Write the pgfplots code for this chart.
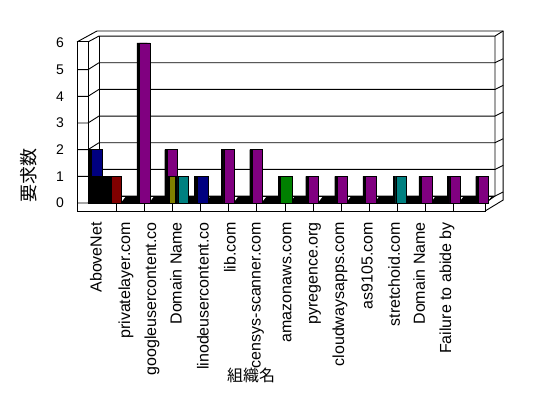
\documentclass[border=0pt]{standalone}
\usepackage{fontspec}
\setmainfont{Liberation Sans}
\newfontfamily\cjk{Noto Sans CJK JP}
\usepackage{pgfplots}
\usepackage{pgfplotstable}
\pgfplotsset{compat=1.18}
\tikzset{frame/.style={line width=0.9pt}}
\definecolor{cnavy}{HTML}{000080}
\definecolor{cmaroon}{HTML}{800000}
\definecolor{cpurple}{HTML}{800080}
\definecolor{colive}{HTML}{808000}
\definecolor{cteal}{HTML}{008080}
\definecolor{cgreen}{HTML}{008000}

\pgfplotstableread{
x y
0.32 2
4.07 1
}\navydata
\pgfplotstableread{
x y
0.46 1
}\blackdata
\pgfplotstableread{
x y
1.01 1
}\maroondata
\pgfplotstableread{
x y
2.01 6
3.00 2
5.01 2
6.02 2
8.01 1
9.04 1
10.04 1
12.03 1
13.04 1
14.05 1
}\purpledata
\pgfplotstableread{
x y
3.04 1
}\olivedata
\pgfplotstableread{
x y
3.38 1
11.12 1
}\tealdata
\pgfplotstableread{
x y
7.04 1
}\greendata

\begin{document}
\begin{tikzpicture}
\path[use as bounding box, fill=white] (0,0) rectangle (548pt,398pt);
\begin{axis}[
  at={(88pt,195pt)}, anchor=south west,
  scale only axis, width=394pt, height=160pt,
  xmin=0, xmax=14, ymin=0, ymax=6,
  clip=false,
  axis line style={draw=none},
  tick style={draw=none},
  major tick length=0pt,
  xtick={0.284,1.350,2.274,3.127,4.087,5.046,6.041,7.072,8.067,8.955,9.915,10.874,11.763,12.758},
  xticklabels={AboveNet,privatelayer.com,googleusercontent.co,Domain Name,linodeusercontent.co,lib.com,censys-scanner.com,amazonaws.com,pyregence.org,cloudwaysapps.com,as9105.com,stretchoid.com,Domain Name,Failure to abide by},
  xticklabel style={rotate=90, anchor=east, inner sep=0pt, font=\fontsize{16}{18}\selectfont},
  xticklabel shift=19pt,
  ytick={0,1,2,3,4,5,6},
  yticklabel style={anchor=east, inner sep=0pt, font=\fontsize{14}{16}\selectfont},
  yticklabel shift=24pt,
  /pgf/number format/assume math mode=true,
  xlabel={\cjk 組織名},
  every axis x label/.style={at={(axis description cs:0.414,-1.08)}, anchor=center, fill=white, inner sep=0.5pt, font=\fontsize{16}{18}\selectfont},
]
% floor band
\fill[black] (axis cs:0,0) -- (axis cs:14.11,0) -- (axis cs:14.46,0.26) -- (axis cs:0.39,0.26) -- cycle;
\pgfplotsinvokeforeach{1,...,14}{
  \fill[white, shift={(axis direction cs:#1,0)}] (axis cs:-0.04,0.03) -- (axis cs:0.18,0.03) -- (axis cs:0.32,0.22) -- (axis cs:0.10,0.22) -- cycle;
}
% floor front face
\draw[frame] (axis cs:0,0) -- (axis cs:14.11,0);
\draw[frame] (axis cs:-0.39,-0.30) -- (axis cs:14.11,-0.30) -- (axis cs:14.11,0);
\pgfplotsinvokeforeach{1,...,13}{
  \draw[frame] (axis cs:#1,0) -- (axis cs:#1,-0.30);
}
% walls
\draw[frame] (axis cs:-0.39,-0.30) -- (axis cs:-0.39,6.04) -- (axis cs:0,6.04) -- (axis cs:0,0);
\draw[frame] (axis cs:-0.39,6.04) -- (axis cs:0.32,6.45) -- (axis cs:14.75,6.45) -- (axis cs:14.75,0.11) -- (axis cs:14.11,-0.30);
\draw[frame] (axis cs:0,6.04) -- (axis cs:0.39,6.26) -- (axis cs:14.46,6.26) -- (axis cs:14.75,6.45);
\draw[frame] (axis cs:0.39,6.26) -- (axis cs:0.39,0.26);
\draw[frame] (axis cs:14.46,6.26) -- (axis cs:14.46,0.26) -- (axis cs:14.11,0);
% gridlines
\pgfplotsinvokeforeach{0,1,2,3,4,5}{
  \draw[frame, shift={(axis direction cs:0,#1)}] (axis cs:-0.39,0) -- (axis cs:0,0) -- (axis cs:0.39,0.26) -- (axis cs:14.46,0.26) -- (axis cs:14.75,0.41);
}
% bars
\addplot[ybar, bar width=0.38, bar shift=-2.5pt, fill=black, draw=black] table {\navydata};
\addplot[ybar, bar width=0.38, bar shift=0pt, fill=cnavy, draw=black] table {\navydata};
\addplot[ybar, bar width=0.71, bar shift=0pt, fill=black, draw=black] table {\blackdata};
\addplot[ybar, bar width=0.37, bar shift=-2.5pt, fill=black, draw=black] table {\maroondata};
\addplot[ybar, bar width=0.37, bar shift=0pt, fill=cmaroon, draw=black] table {\maroondata};
\addplot[ybar, bar width=0.37, bar shift=-2.5pt, fill=black, draw=black] table {\purpledata};
\addplot[ybar, bar width=0.37, bar shift=0pt, fill=cpurple, draw=black] table {\purpledata};
\addplot[ybar, bar width=0.31, bar shift=-2.5pt, fill=black, draw=black] table {\olivedata};
\addplot[ybar, bar width=0.31, bar shift=0pt, fill=colive, draw=black] table {\olivedata};
\addplot[ybar, bar width=0.37, bar shift=-2.5pt, fill=black, draw=black] table {\tealdata};
\addplot[ybar, bar width=0.37, bar shift=0pt, fill=cteal, draw=black] table {\tealdata};
\addplot[ybar, bar width=0.42, bar shift=-2.5pt, fill=black, draw=black] table {\greendata};
\addplot[ybar, bar width=0.42, bar shift=0pt, fill=cgreen, draw=black] table {\greendata};
\end{axis}
\node[rotate=90, anchor=center, inner sep=0pt, font=\fontsize{18}{20}\selectfont] at (29pt,222pt) {\cjk 要求数};
\end{tikzpicture}
\end{document}
